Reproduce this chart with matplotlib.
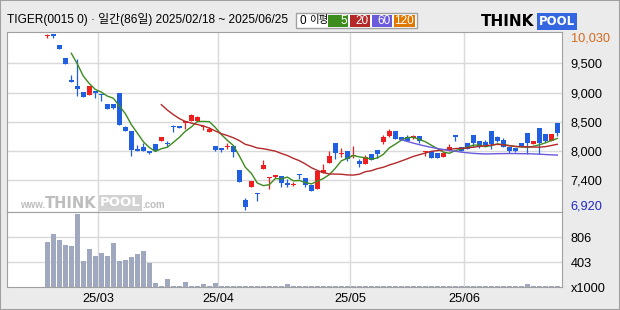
import matplotlib.pyplot as plt
from matplotlib.patches import Rectangle
import numpy as np
import pandas as pd

# ----- data -----
opens = [9990, 10025, 9835, 9605, 9215, 9110, 9005, 8955, 9020, 8975,
         8790, 8790, 8985, 8380, 8310, 7985, 8035, 7965, 8075, 8140,
         8100, 8400, 8395, 8460, 8495, 8495, 8385, 8295, 8045, 8015,
         8025, 8045, 7620, 7090, 7325, 7215, 7645, 7475, 7505, 7515,
         7395, 7355, 7550, 7480, 7360, 7285, 7560, 7750, 8095, 7900,
         7955, 7860, 7780, 7735, 7900, 7975, 8120, 8230, 8310, 8200,
         8210, 8190, 8225, 7940, 7965, 7930, 7855, 7965, 8240, 8025,
         8100, 8235, 8130, 8115, 8310, 8205, 8150, 8035, 8010, 8100,
         8275, 8090, 8365, 8260, 8140, 8455]
highs = [10030, 10030, 9835, 9605, 9305, 9590, 9005, 9110, 9025, 8975,
         8790, 8790, 8985, 8405, 8310, 8065, 8095, 7965, 8075, 8210,
         8135, 8415, 8395, 8495, 8620, 8585, 8425, 8380, 8045, 8015,
         8095, 8045, 7620, 7130, 7430, 7215, 7800, 7505, 7525, 7515,
         7465, 7415, 7550, 7480, 7360, 7595, 7730, 7960, 8095, 8005,
         7955, 8045, 7820, 7880, 7900, 7975, 8240, 8345, 8310, 8200,
         8245, 8245, 8225, 7965, 7965, 7930, 7915, 8080, 8240, 8025,
         8100, 8235, 8130, 8150, 8310, 8220, 8185, 8035, 8010, 8100,
         8275, 8135, 8365, 8260, 8260, 8455]
lows = [9960, 9970, 9770, 9505, 9175, 8940, 8910, 8955, 8900, 8850,
        8705, 8700, 8425, 8305, 7875, 7950, 7955, 7910, 7955, 8140,
        8040, 8300, 8360, 8340, 8495, 8495, 8330, 8295, 7950, 7935,
        7990, 7855, 7415, 6920, 7325, 7065, 7645, 7290, 7475, 7325,
        7315, 7330, 7460, 7325, 7245, 7285, 7560, 7750, 7810, 7855,
        7780, 7840, 7680, 7735, 7790, 7840, 8080, 8200, 8175, 8150,
        8140, 8175, 8105, 7870, 7840, 7840, 7855, 7965, 8135, 7965,
        8000, 8035, 8005, 8060, 8000, 8110, 8035, 7915, 7940, 8045,
        7905, 8075, 7905, 8120, 8140, 8225]
closes = [10010, 9990, 9770, 9505, 9175, 9065, 8910, 9110, 8985, 8945,
          8705, 8725, 8425, 8305, 7970, 7955, 7955, 7915, 7955, 8210,
          8085, 8385, 8360, 8495, 8595, 8560, 8400, 8340, 7980, 7970,
          8045, 7945, 7415, 6970, 7430, 7190, 7710, 7500, 7520, 7385,
          7360, 7380, 7525, 7350, 7255, 7595, 7620, 7870, 7915, 7920,
          7810, 7880, 7735, 7850, 7790, 7910, 8205, 8310, 8175, 8150,
          8140, 8225, 8130, 7965, 7840, 7840, 7915, 8025, 8210, 7965,
          8000, 8105, 8035, 8060, 8075, 8140, 8035, 7965, 7965, 8045,
          8095, 8135, 8095, 8135, 8260, 8270]
volumes = [735, 859, 762, 682, 666, 1186, 429, 617, 505, 553,
           505, 714, 429, 440, 488, 537, 585, 397, 69, 20,
           139, 20, 20, 85, 20, 20, 53, 20, 69, 20,
           20, 20, 20, 20, 20, 20, 20, 20, 20, 20,
           50, 20, 20, 20, 20, 20, 20, 20, 20, 20,
           20, 20, 20, 20, 20, 20, 20, 20, 20, 20,
           20, 20, 20, 20, 20, 20, 20, 20, 20, 20,
           20, 20, 20, 20, 20, 20, 20, 20, 20, 20,
           50, 20, 20, 20, 20, 20]

month_idx = [9, 29, 51, 70]
month_labels = ['25/03', '25/04', '25/05', '25/06']
price_ticks = ['7,400', '8,000', '8,500', '9,000', '9,500']
vol_ticks = [0, 403, 806]
vol_labels = ['x1000', '403', '806']
p_max, p_min = 10030, 6920

C = {
    'bg': '#EBEBEB', 'frame': '#A0A0A0', 'grid': '#D9D9D9',
    'up': '#F01E1E', 'down': '#1F5FE0', 'vol': '#A0A8C0',
    'ma5': '#3C8C1E', 'ma20': '#B42828', 'ma60': '#6A5ADC', 'ma120': '#E07800',
}
FAM = ['Liberation Sans', 'Noto Sans CJK KR', 'DejaVu Sans']
TS = 9.2   # tick label size

W, H = 620, 310
fig = plt.figure(figsize=(W / 100, H / 100), dpi=100, facecolor=C['bg'])
fig.patches.append(Rectangle((0, 0), 1, 1, transform=fig.transFigure,
                             fill=False, edgecolor=C['frame'], lw=1.5))


def px_axes(x0, y0, x1, y1):
    return fig.add_axes([x0 / W, 1 - y1 / H, (x1 - x0) / W, (y1 - y0) / H])


def ftext(px, py, s, **kw):
    kw.setdefault('family', FAM)
    kw.setdefault('va', 'center')
    return fig.text(px / W, 1 - py / H, s, **kw)


x = np.arange(len(closes))
xlim = (-6.67, 85.83)

# ----- price panel -----
ax = px_axes(7.3, 31.7, 562.3, 211.7)
ax.set_facecolor('white')
ax.set_xlim(*xlim)
ax.set_ylim(6881, 10073)

step = (p_max - p_min) / 6
grid_vals = [p_min + k * step for k in range(1, 6)]
for g in grid_vals:
    ax.axhline(g, color=C['grid'], lw=1, zorder=0)
for m in month_idx:
    ax.axvline(m - 0.5, color=C['grid'], lw=1, zorder=0)

o = np.array(opens); c = np.array(closes)
up = c >= o
cols = np.where(up, C['up'], C['down'])
ax.vlines(x, lows, highs, colors=cols, lw=0.9, zorder=3)
body_h = np.maximum(np.abs(c - o), 20)
ax.bar(x, body_h, bottom=np.minimum(o, c), width=0.85, color=cols,
       lw=0, zorder=4)

s = pd.Series(closes, dtype=float)
for n, col in ((5, C['ma5']), (20, C['ma20']), (60, C['ma60'])):
    ax.plot(x, s.rolling(n).mean(), color=col, lw=1.0, zorder=5)

ax.set_xticks([])
ax.yaxis.tick_right()
ax.set_yticks(grid_vals, price_ticks)
ax.tick_params(axis='y', length=0, pad=6, labelsize=TS, labelcolor='black')
for lab in ax.get_yticklabels():
    lab.set_family(FAM)
ax.text(1.015, 0.963, '10,030', transform=ax.transAxes, fontsize=TS,
        color='#D2691E', va='center', family=FAM)
ax.text(1.015, 0.028, '6,920', transform=ax.transAxes, fontsize=TS,
        color='#1E28C8', va='center', family=FAM)
for sp in ax.spines.values():
    sp.set_color(C['frame'])

# ----- volume panel -----
av = px_axes(7.3, 212.0, 562.3, 287.3)
av.set_facecolor('white')
av.set_xlim(*xlim)
av.set_ylim(0, 1214)
for g in vol_ticks[1:]:
    av.axhline(g, color=C['grid'], lw=1, zorder=0)
for m in month_idx:
    av.axvline(m - 0.5, color=C['grid'], lw=1, zorder=0)
av.bar(x, volumes, width=0.85, color=C['vol'], lw=0, zorder=3)
av.yaxis.tick_right()
av.set_yticks(vol_ticks, vol_labels)
av.set_xticks([m - 0.5 for m in month_idx], month_labels)
av.tick_params(axis='both', length=0, labelsize=TS)
av.tick_params(axis='x', pad=4)
av.tick_params(axis='y', pad=6)
for lab in av.get_yticklabels() + av.get_xticklabels():
    lab.set_family(FAM)
for sp in av.spines.values():
    sp.set_color(C['frame'])

# watermark (figure pixels)
ftext(20, 205, 'www.', fontsize=7, color='#BDBDBD', fontweight='bold')
ftext(45, 203, 'THINK', fontsize=10.5, color='#BDBDBD', fontweight='bold',
      family='DejaVu Sans')
ftext(100, 203, 'POOL', fontsize=9.5, color='white', fontweight='bold',
      family='DejaVu Sans',
      bbox=dict(boxstyle='square,pad=0.08', fc='#D2D2D2', ec='none'))
ftext(142, 205, '.com', fontsize=7, color='#BDBDBD', fontweight='bold')

# ----- header -----
ftext(7, 20, 'TIGER(0015 0) · 일간(86일) 2025/02/18 ~ 2025/06/25',
      fontsize=8.6, ha='left')
fig.patches.append(Rectangle((296 / W, 1 - 28 / H), 121 / W, 15 / H,
                             transform=fig.transFigure, fc='white',
                             ec=C['frame'], lw=1))
ftext(299, 20.5, '0', fontsize=8.5)
ftext(309, 20.5, '이평', fontsize=7.5)
legend_boxes = [(328, 348, '5', C['ma5']), (350, 370, '20', C['ma20']),
                (372, 392, '60', C['ma60']), (394, 415, '120', C['ma120'])]
for x0, x1, lab, col in legend_boxes:
    fig.patches.append(Rectangle((x0 / W, 1 - 27 / H), (x1 - x0) / W, 12 / H,
                                 transform=fig.transFigure, fc=col, ec='none'))
    ftext(x1 - 1, 21, lab, fontsize=8.5, color='white', ha='right')

# logo
ftext(481, 21.5, 'THINK', fontsize=11, fontweight='bold',
      family='DejaVu Sans', color='black')
ftext(539, 21.5, 'POOL', fontsize=8.5, fontweight='bold',
      family='DejaVu Sans', color='white',
      bbox=dict(boxstyle='square,pad=0.15', fc='#3366E0', ec='none'))

fig.savefig('out.png', dpi=100, facecolor=C['bg'])
